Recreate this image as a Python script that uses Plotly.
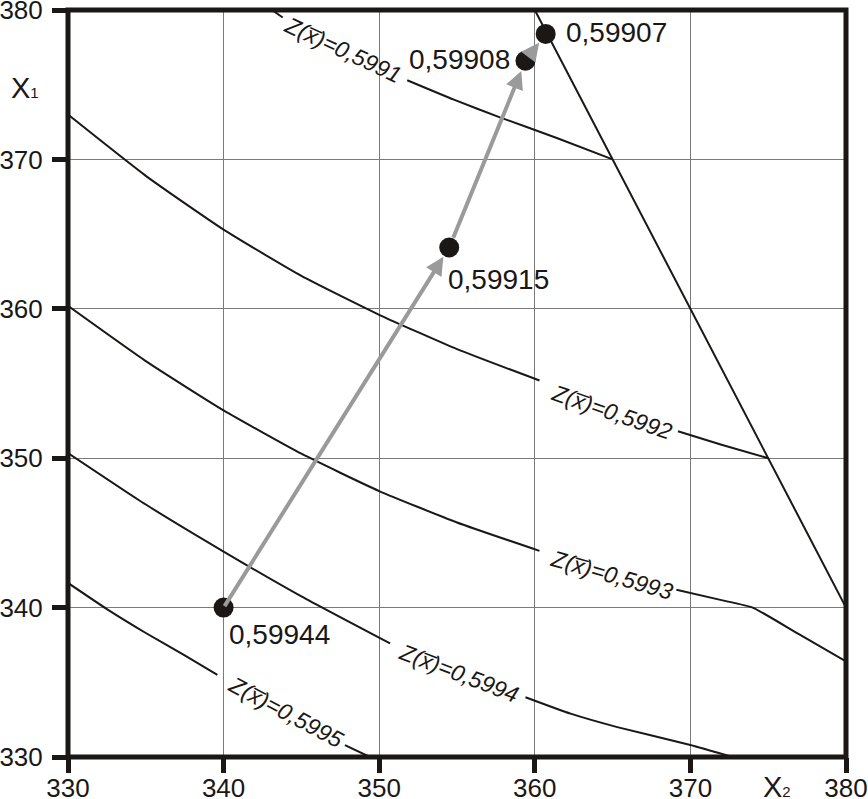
import plotly.graph_objects as go

# ---- data ----
# contour lines Z(x)=const (x = x2, y = x1); None marks the gap for the label
z1_x = [343.1, 343.8, None, 351.8, 354.8, 357.8, 361.5, 365.0]
z1_y = [380.0, 379.5, None, 375.3, 374.0, 372.8, 371.4, 370.0]
z2_x = [330.0, 335.0, 340.0, 345.0, 350.0, 355.0, 360.3, None, 369.2, 372.0, 375.0]
z2_y = [373.0, 368.9, 365.3, 362.2, 359.6, 357.3, 355.2, None, 351.8, 350.9, 350.0]
z3_x = [330.0, 335.0, 340.0, 345.0, 350.0, 355.0, 360.3, None, 369.1, 372.0, 374.0, 377.0, 380.0]
z3_y = [360.2, 356.5, 353.2, 350.3, 347.8, 345.7, 343.8, None, 341.2, 340.5, 340.0, 338.2, 336.4]
z4_x = [330.0, 335.0, 340.0, 345.0, 350.7, None, 359.4, 362.3, 365.3, 370.0, 372.7]
z4_y = [350.35, 346.9, 343.75, 340.75, 337.6, None, 334.0, 332.9, 332.0, 330.8, 330.0]
z5_x = [330.0, 332.5, 335.0, 337.5, 339.6, None, 347.8, 349.4]
z5_y = [341.65, 339.9, 338.3, 336.8, 335.5, None, 330.8, 330.0]

# constraint line
c_x = [360.0, 380.0]
c_y = [380.0, 340.0]

# search path points
p_x = [340.0, 354.5, 359.4, 360.7]
p_y = [340.0, 364.1, 376.6, 378.4]
p_labels = ["0,59944", "0,59915", "0,59908", "0,59907"]

levels = ["0,5991", "0,5992", "0,5993", "0,5994", "0,5995"]
lab_x = [347.7, 364.96, 364.96, 355.1, 344.0]
lab_y = [377.3, 353.1, 342.2, 335.6, 333.0]
lab_ang = [25, 19, 16, 21, 28]

ticks = [330, 340, 350, 360, 370, 380]

FONT = "Liberation Sans, Arial, sans-serif"
INK = "#1a1715"

fig = go.Figure()
for xs, ys in [(z1_x, z1_y), (z2_x, z2_y), (z3_x, z3_y), (z4_x, z4_y), (z5_x, z5_y)]:
    fig.add_trace(go.Scatter(x=xs, y=ys, mode="lines",
                             line=dict(color=INK, width=2, shape="spline", smoothing=0.5),
                             connectgaps=False, showlegend=False, hoverinfo="skip"))
fig.add_trace(go.Scatter(x=c_x, y=c_y, mode="lines", line=dict(color=INK, width=2),
                         showlegend=False, hoverinfo="skip"))

annotations = []
# grey arrows between points
for i in range(len(p_x) - 1):
    annotations.append(dict(x=p_x[i + 1], y=p_y[i + 1], ax=p_x[i], ay=p_y[i], xref="x", yref="y",
                            axref="x", ayref="y", showarrow=True, arrowhead=2, arrowsize=0.9,
                            arrowwidth=4, arrowcolor="#9a9a9a", standoff=11,
                            startstandoff=(0 if i == 0 else 9), text=""))

fig.add_trace(go.Scatter(x=p_x, y=p_y, mode="markers", marker=dict(color=INK, size=20),
                         showlegend=False, hoverinfo="skip"))

# point labels
offs = [(3, -27, "left"), (-3, -32, "left"), (-13, 1, "right"), (18, 1, "left")]
for i, t in enumerate(p_labels):
    dx, dy, anc = offs[i]
    annotations.append(dict(x=p_x[i], y=p_y[i], xref="x", yref="y", text=t, showarrow=False,
                            xanchor=anc, yanchor="middle", xshift=dx, yshift=dy,
                            font=dict(family=FONT, size=28, color=INK)))

# contour labels
for i, lv in enumerate(levels):
    annotations.append(dict(x=lab_x[i], y=lab_y[i], xref="x", yref="y",
                            text="<i>Z(x\u0305)=" + lv + "</i>", showarrow=False,
                            textangle=lab_ang[i], xanchor="center", yanchor="middle",
                            font=dict(family=FONT, size=23, color=INK)))

# axis titles
annotations.append(dict(x=-0.0553, y=0.8956, xref="paper", yref="paper", showarrow=False,
                        xanchor="center", yanchor="middle",
                        text="X<span style='font-size:15px'>1</span>",
                        font=dict(family=FONT, size=29, color=INK)))
annotations.append(dict(x=0.911, y=-0.040, xref="paper", yref="paper", showarrow=False,
                        xanchor="center", yanchor="middle",
                        text="X<span style='font-size:15px'>2</span>",
                        font=dict(family=FONT, size=29, color=INK)))

axis_common = dict(range=[330, 380], tickvals=ticks, ticktext=[str(t) for t in ticks],
                   ticks="outside", ticklen=15, tickwidth=5, tickcolor=INK,
                   showline=False, showgrid=True, gridcolor="#7a7a7a", gridwidth=1,
                   zeroline=False, automargin=False, ticklabeloverflow="allow",
                   tickfont=dict(family=FONT, size=26, color=INK))

fig.update_layout(
    width=868, height=799,
    margin=dict(l=68, r=22, t=10, b=42, autoexpand=False),
    plot_bgcolor="white", paper_bgcolor="white",
    xaxis=dict(**axis_common, ticklabelstandoff=-7),
    yaxis=dict(**axis_common, ticklabelstandoff=4),
    annotations=annotations,
    shapes=[dict(type="rect", xref="paper", yref="paper", x0=0, y0=0, x1=1, y1=1,
                 line=dict(color=INK, width=5), layer="above")],
)

fig.write_html("out.html", config={"displayModeBar": False},
               post_script="document.body.style.margin='0';document.body.style.overflow='hidden';")
